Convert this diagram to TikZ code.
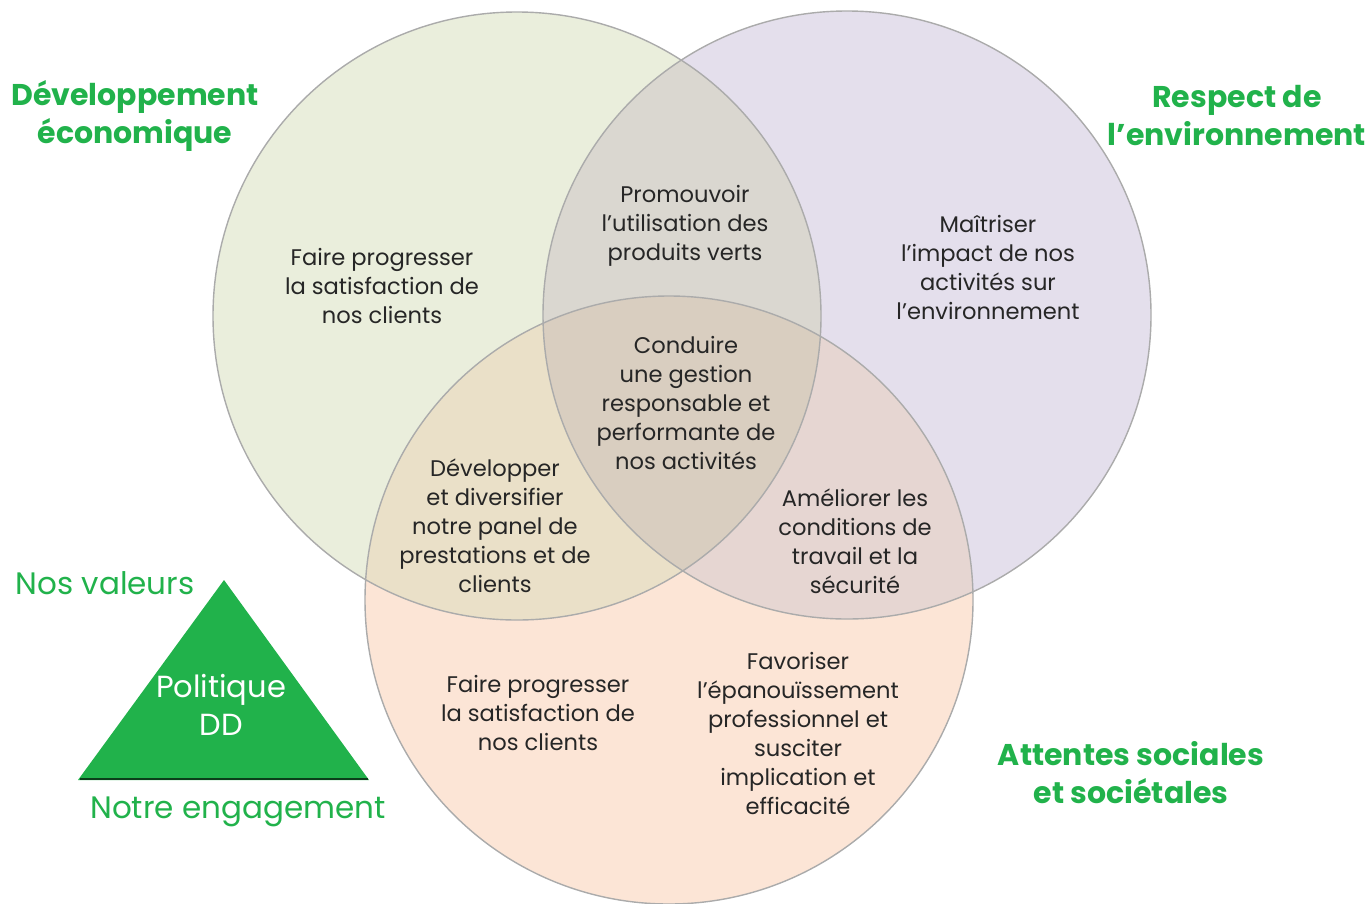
\documentclass[tikz,border=0pt]{standalone}
\usepackage{fontspec}
\setmainfont{Poppins}
\usepackage{xcolor}
\usetikzlibrary{positioning, calc}

\definecolor{ddgreen}{HTML}{21B24B}
\definecolor{ecofill}{HTML}{EAEEDC}
\definecolor{envfill}{HTML}{E4DFEC}
\definecolor{socfill}{HTML}{FCE5D6}
\definecolor{ecoenv}{HTML}{DAD7D0}
\definecolor{ecosoc}{HTML}{EAE0C8}
\definecolor{envsoc}{HTML}{E6D6D2}
\definecolor{allfill}{HTML}{D9CEC0}

\begin{document}
\begin{tikzpicture}[
            x=1pt, y=-1pt,
            ring/.style={draw=black!33, line width=1.4pt},
            txt/.style={align=center, inner sep=0pt, text=black!85,
                font=\fontsize{22.6}{29}\selectfont},
            title/.style={align=center, inner sep=0pt, text=ddgreen,
                font=\fontsize{30}{38}\selectfont\bfseries},
            motto/.style={inner sep=0pt, text=ddgreen,
                font=\fontsize{31}{38}\selectfont}
        ]
            \useasboundingbox (0,0) rectangle (1367,903);

            % circle centres
            \coordinate (eco) at (517,316);
            \coordinate (env) at (847,315);
            \coordinate (soc) at (669,600);

            % circles
            \fill[ecofill] (eco) circle (304);
            \fill[envfill] (env) circle (304);
            \fill[socfill] (soc) circle (304);

            % overlaps
            \begin{scope}
                \clip (eco) circle (304);
                \fill[ecoenv] (env) circle (304);
                \fill[ecosoc] (soc) circle (304);
            \end{scope}
            \begin{scope}
                \clip (env) circle (304);
                \fill[envsoc] (soc) circle (304);
                \clip (soc) circle (304);
                \fill[allfill] (eco) circle (304);
            \end{scope}

            \draw[ring] (eco) circle (304);
            \draw[ring] (env) circle (304);
            \draw[ring] (soc) circle (304);

            % texts in the circles
            \node[txt] (T1) at (382,286) {Faire progresser\\la satisfaction de\\nos clients};
            \node[txt] (T2) at (685,226) {Promouvoir\\l’utilisation des\\produits verts};
            \node[txt] (T3) at (988,267) {Maîtriser\\l’impact de nos\\activités sur\\l’environnement};
            \node[txt] (T4) at (686,403) {Conduire\\une gestion\\responsable et\\performante de\\nos activités};
            \node[txt] (T5) at (495,526) {Développer\\et diversifier\\notre panel de\\prestations et de\\clients};
            \node[txt] (T6) at (855,541) {Améliorer les\\conditions de\\travail et la\\sécurité};
            \node[txt] (T7) at (538,713) {Faire progresser\\la satisfaction de\\nos clients};
            \node[txt] (T8) at (798,733) {Favoriser\\l’épanouïssement\\professionnel et\\susciter\\implication et\\efficacité};

            % titles
            \node[title] (H1) at (135,116) {Développement\\économique};
            \node[title] (H2) at (1237,116) {Respect de\\l’environnement};
            \node[title] (H3) at (1131,773) {Attentes sociales\\et sociétales};

            % triangle
            \coordinate (TL) at (78,780);
            \coordinate (TT) at (224,580);
            \coordinate (TR) at (369,780);
            \fill[ddgreen] (TL) -- (TT) -- (TR) -- cycle;
            \draw[ddgreen!35!black, line width=2pt] ($(TL)+(1.5,-1)$) -- ($(TR)+(-1.5,-1)$);
            \node[align=center, inner sep=0pt, text=white,
                font=\fontsize{30.5}{38}\selectfont] (P) at (221,705) {Politique\\DD};

            \node[motto] (M1) at (105,583) {Nos valeurs};
            \node[motto] (M2) at (238,812) {Notre engagement};
        \end{tikzpicture}
\end{document}
